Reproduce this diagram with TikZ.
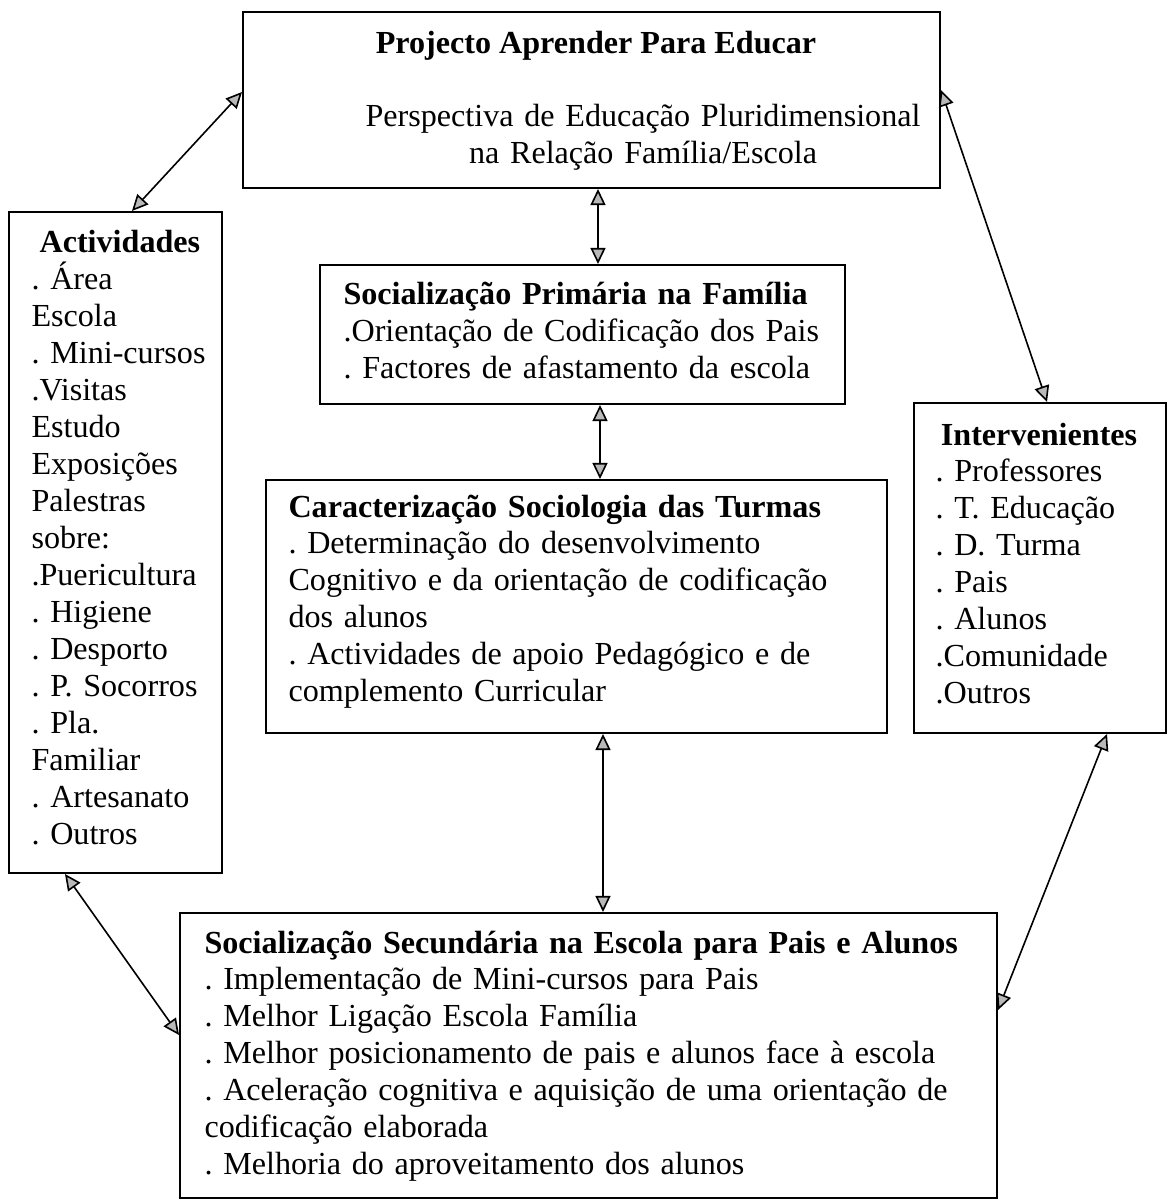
\documentclass[tikz,border=0pt]{standalone}
\usepackage{fontspec}
\setmainfont{Liberation Serif}
\usetikzlibrary{arrows.meta,fit,positioning}

\tikzset{
	box/.style={draw, line width=0.75pt, inner sep=0pt},
	txt/.style={inner sep=0pt, font=\fontsize{12}{13.8}\selectfont\frenchspacing},
	link/.style={{Triangle[length=6pt,width=5.6pt,fill=gray!55]}-{Triangle[length=6pt,width=5.6pt,fill=gray!55]}, line width=0.6pt},
}

\begin{document}
\begin{tikzpicture}[x=0.3735pt, y=-0.3735pt]

	\useasboundingbox (0,0) rectangle (1170,1201);

	\node[box, fit={(243,12) (940,188)}] (proj) {};
	\node[box, fit={(9,212) (222,873)}] (acti) {};
	\node[box, fit={(320,265) (845,404)}] (prim) {};
	\node[box, fit={(266,480) (887,733)}] (carac) {};
	\node[box, fit={(914,403) (1166,733)}] (interv) {};
	\node[box, fit={(180,913) (997,1198)}] (sec) {};

	\node[txt, anchor=base] (projTitle) at (596,54) {\textbf{Projecto Aprender Para Educar}};
	\node[txt, text width=215pt, align=center, anchor=base] (projSub) at (643,127)
	{Perspectiva de Educação Pluridimensional\\na Relação Família/Escola};

	\node[txt, text width=75pt, align=left, anchor=base west] (actiT) at (31,253)
	{\hspace*{3pt}\textbf{Actividades}\\. Área\\Escola\\. Mini-cursos\\.Visitas\\Estudo\\Exposições\\Palestras\\sobre:\\.Puericultura\\. Higiene\\. Desporto\\. P. Socorros\\. Pla.\\Familiar\\. Artesanato\\. Outros};

	\node[txt, text width=200pt, align=left, anchor=base west] (primT) at (343,305)
	{\textbf{Socialização Primária na Família}\\.Orientação de Codificação dos Pais\\. Factores de afastamento da escola};

	\node[txt, text width=230pt, align=left, anchor=base west] (caracT) at (288,517)
	{\textbf{Caracterização Sociologia das Turmas}\\. Determinação do desenvolvimento\\Cognitivo e da orientação de codificação\\dos alunos\\. Actividades de apoio Pedagógico e de\\complemento Curricular};

	\node[txt, text width=85pt, align=left, anchor=base west] (intervT) at (935,445)
	{\hspace*{2pt}\textbf{Intervenientes}\\. Professores\\. T. Educação\\. D. Turma\\. Pais\\. Alunos\\.Comunidade\\.Outros};

	\node[txt, text width=290pt, align=left, anchor=base west] (secT) at (204,953)
	{\textbf{Socialização Secundária na Escola para Pais e Alunos}\\. Implementação de Mini-cursos para Pais\\. Melhor Ligação Escola Família\\. Melhor posicionamento de pais e alunos face à escola\\. Aceleração cognitiva e aquisição de uma orientação de\\codificação elaborada\\. Melhoria do aproveitamento dos alunos};

	\draw[link] (acti.north -| 132,0) -- (proj.west |- 0,92);
	\draw[link] (proj.south -| 598,0) -- (prim.north -| 598,0);
	\draw[link] (proj.east |- 0,90) -- (interv.north -| 1047,0);
	\draw[link] (prim.south -| 600,0) -- (carac.north -| 600,0);
	\draw[link] (carac.south -| 603,0) -- (sec.north -| 603,0);
	\draw[link] (acti.south -| 65,0) -- (sec.west |- 0,1035);
	\draw[link] (interv.south -| 1107,0) -- (sec.east |- 0,1010);

\end{tikzpicture}
\end{document}
